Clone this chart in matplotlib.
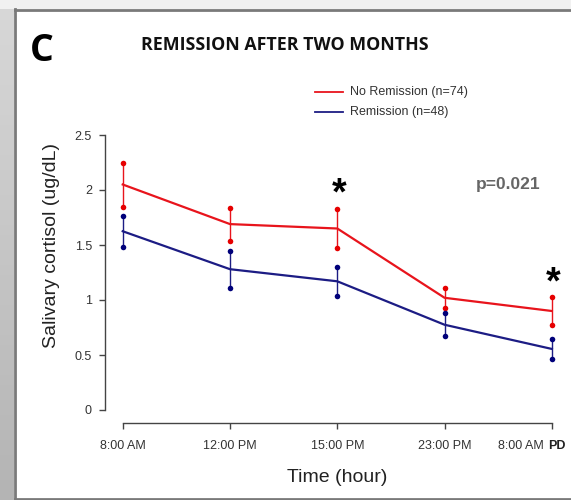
import matplotlib
matplotlib.use("Agg")
import matplotlib.pyplot as plt
import numpy as np
from matplotlib.patches import Rectangle
from matplotlib.lines import Line2D

# Sampling times and group means with error half-widths
times = ["8:00 AM", "12:00 PM", "15:00 PM", "23:00 PM", "8:00 AM"]
last_suffix = "PD"
no_remission_mean = [2.05, 1.69, 1.65, 1.02, 0.90]
no_remission_err = [0.20, 0.15, 0.18, 0.09, 0.125]
remission_mean = [1.625, 1.28, 1.17, 0.775, 0.555]
remission_err = [0.14, 0.17, 0.13, 0.105, 0.09]
series_labels = ["No Remission (n=74)", "Remission (n=48)"]
yticks = [0, 0.5, 1, 1.5, 2, 2.5]
ytick_labels = ["0", "0.5", "1", "1.5", "2", "2.5"]
significant = [2, 4]

RED = "#e8141c"
BLUE = "#1c1c84"
DOT_RED = "#e60000"
DOT_BLUE = "#00007a"
GRAY = "#333333"

plt.rcParams["font.family"] = ["Liberation Sans", "DejaVu Sans"]

W, H = 571, 500
fig = plt.figure(figsize=(W / 100, H / 100), dpi=100)
fig.patch.set_facecolor("white")

def px_rect(x0, y0, x1, y1):
    # pixel box (origin top-left) -> figure fraction rect
    return (x0 / W, 1 - y1 / H, (x1 - x0) / W, (y1 - y0) / H)

# Surrounding slide frame
fig.patches.append(Rectangle((0, 1 - 9 / H), 1, 9 / H, transform=fig.transFigure,
                             facecolor="#f1f1f1", edgecolor="none", zorder=0))
grad = np.linspace(0, 1, 100).reshape(-1, 1)
fax = fig.add_axes(px_rect(0, 0, 14, H))
fax.imshow(grad, aspect="auto", cmap=matplotlib.colors.LinearSegmentedColormap.from_list(
    "g", ["#d8d8d8", "#b4b4b4"]), extent=(0, 1, 1, 0))
fax.set_axis_off()
fig.lines.append(Line2D([15 / W, 15 / W], [0, 1 - 9 / H], transform=fig.transFigure,
                        color="#7a7a7a", lw=2))
fig.lines.append(Line2D([15 / W, 1], [1 - 9.5 / H, 1 - 9.5 / H], transform=fig.transFigure,
                        color="#7a7a7a", lw=2))
fig.lines.append(Line2D([15 / W, 1], [1.5 / H, 1.5 / H], transform=fig.transFigure,
                        color="#7a7a7a", lw=2))

# Main plot axes
x = np.arange(len(times))
ax = fig.add_axes(px_rect(95.9, 124, 562.6, 432))
ax.set_xlim(-0.25, 4.1)
ax.set_ylim(-0.2, 2.6)
ax.patch.set_alpha(0)

for means, errs, lc, dc in [(no_remission_mean, no_remission_err, RED, DOT_RED),
                            (remission_mean, remission_err, BLUE, DOT_BLUE)]:
    means = np.array(means)
    errs = np.array(errs)
    ax.plot(x, means, color=lc, lw=1.6, zorder=3)
    ax.vlines(x, means - errs, means + errs, color=lc, lw=1.0, zorder=2)
    ax.scatter(np.r_[x, x], np.r_[means - errs, means + errs], s=16, color=dc,
               zorder=4, linewidths=0)

for spine in ["top", "right"]:
    ax.spines[spine].set_visible(False)
ax.spines["left"].set_position(("data", -0.165))
ax.spines["left"].set_bounds(0, 2.5)
ax.spines["bottom"].set_position(("data", -0.115))
ax.spines["bottom"].set_bounds(0, 4)
for s in ["left", "bottom"]:
    ax.spines[s].set_color("#444444")
    ax.spines[s].set_linewidth(1.0)

ax.set_yticks(yticks)
ax.set_yticklabels(ytick_labels)
ax.set_xticks(x)
ax.set_xticklabels(times[:-1] + [""])
ax.tick_params(axis="both", direction="out", length=4.5, width=1.0, color="#444444",
               labelcolor=GRAY, labelsize=9)
ax.tick_params(axis="y", pad=5)
ax.tick_params(axis="x", pad=8)

# Last tick label with the bold suffix
ax.annotate(times[-1], xy=(x[-1], -0.115), xytext=(-8, -23), textcoords="offset pixels",
            ha="right", va="center", fontsize=9, color=GRAY)
ax.annotate(last_suffix, xy=(x[-1], -0.115), xytext=(-4, -23), textcoords="offset pixels",
            ha="left", va="center", fontsize=9, color="#222222", fontweight="bold")

fig.text(52 / W, 1 - 246 / H, "Salivary cortisol (ug/dL)", fontsize=14, color="#222222",
         rotation=90, ha="center", va="center")
fig.text(337 / W, 1 - 477 / H, "Time (hour)", fontsize=14, color="#222222",
         ha="center", va="center")

# Significance stars
for i in significant:
    top = no_remission_mean[i] + no_remission_err[i]
    ax.annotate("*", (x[i], top), xytext=(1.5, 4), textcoords="offset pixels",
                ha="center", va="baseline", fontsize=27, fontweight="bold", color="black")

fig.text(508 / W, 1 - 185 / H, "p=0.021", fontsize=12.5, fontweight="bold",
         color="#666666", ha="center", va="center")

# Titles
fig.text(285 / W, 1 - 45 / H, "REMISSION AFTER TWO MONTHS", fontsize=12.8,
         fontweight="bold", color="#111111", ha="center", va="center",
         family=["Open Sans", "DejaVu Sans"])
fig.text(42 / W, 1 - 51 / H, "C", fontsize=27, fontweight="bold", color="black",
         ha="center", va="center", family=["Open Sans", "DejaVu Sans"])

# Legend
for (lbl, col, yy) in [(series_labels[0], RED, 92), (series_labels[1], BLUE, 112)]:
    fig.lines.append(Line2D([315 / W, 343 / W], [1 - yy / H, 1 - yy / H],
                            transform=fig.transFigure, color=col, lw=1.3))
    fig.text(350 / W, 1 - yy / H, lbl, fontsize=9, color="#333333", ha="left", va="center")

fig.savefig("out.png", dpi=100)
